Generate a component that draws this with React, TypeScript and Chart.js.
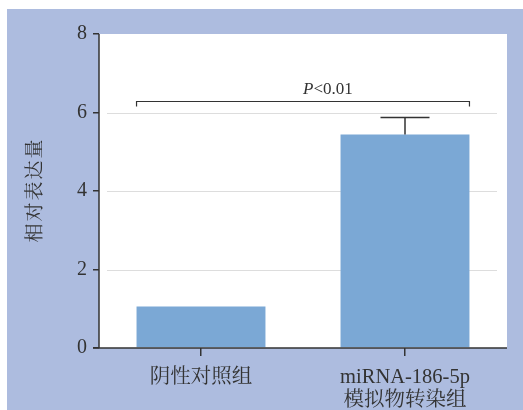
import React, { useEffect, useRef } from "react";
import { Chart, registerables } from "chart.js";

Chart.register(...registerables);

const categories: (string | string[])[] = ["阴性对照组", ["miRNA-186-5p", "模拟物转染组"]];
const values = [1.06, 5.44];
const errors = [0, 0.43];
const yTicks = [0, 2, 4, 6, 8];
const gridValues = [2, 4, 6];
const bracketValue = 6.28;
const pLabel = ["P", "<0.01"];
const yTitle = "相对表达量";

const FONT = '"Liberation Serif", "Noto Serif CJK SC", "Noto Sans CJK SC", serif';
const FRAME = "#adbcdf";
const BAR = "#7ba8d5";
const INK = "#333333";

const framePlugin = {
  id: "frame",
  beforeDraw(chart: any) {
    const { ctx, chartArea, width, height } = chart;
    ctx.save();
    ctx.fillStyle = "#ffffff";
    ctx.fillRect(0, 0, width, height);
    ctx.fillStyle = FRAME;
    ctx.fillRect(7, 9, width - 7, height - 9);
    ctx.fillStyle = "#ffffff";
    ctx.fillRect(chartArea.left, chartArea.top, chartArea.right - chartArea.left, chartArea.bottom - chartArea.top);
    ctx.restore();
  },
  beforeDatasetsDraw(chart: any) {
    const { ctx, chartArea, scales } = chart;
    ctx.save();
    ctx.strokeStyle = "#dddddd";
    ctx.lineWidth = 1;
    for (const v of gridValues) {
      const y = Math.round(scales.y.getPixelForValue(v)) + 0.5;
      ctx.beginPath();
      ctx.moveTo(chartArea.left + 8, y);
      ctx.lineTo(chartArea.right - 10, y);
      ctx.stroke();
    }
    ctx.restore();
  },
  afterDatasetsDraw(chart: any) {
    const { ctx, chartArea, scales } = chart;
    const meta = chart.getDatasetMeta(0);
    ctx.save();
    ctx.strokeStyle = INK;
    ctx.lineWidth = 1.5;

    // axis lines
    ctx.beginPath();
    ctx.moveTo(chartArea.left, chartArea.top);
    ctx.lineTo(chartArea.left, chartArea.bottom);
    ctx.moveTo(chartArea.left - 6, chartArea.bottom);
    ctx.lineTo(chartArea.right, chartArea.bottom);
    ctx.stroke();

    // error bars
    meta.data.forEach((bar: any, i: number) => {
      if (!errors[i]) return;
      const yTop = scales.y.getPixelForValue(values[i] + errors[i]);
      const x = bar.x;
      ctx.beginPath();
      ctx.moveTo(x, bar.y);
      ctx.lineTo(x, yTop);
      ctx.moveTo(x - 24.5, yTop);
      ctx.lineTo(x + 24.5, yTop);
      ctx.stroke();
    });

    // significance bracket
    const b0 = meta.data[0];
    const b1 = meta.data[meta.data.length - 1];
    const x1 = b0.x - b0.width / 2;
    const x2 = b1.x + b1.width / 2;
    const yb = scales.y.getPixelForValue(bracketValue);
    ctx.lineWidth = 1.2;
    ctx.beginPath();
    ctx.moveTo(x1, yb + 5);
    ctx.lineTo(x1, yb);
    ctx.lineTo(x2, yb);
    ctx.lineTo(x2, yb + 5);
    ctx.stroke();

    const xt = (x1 + x2) / 2;
    ctx.fillStyle = INK;
    ctx.textBaseline = "alphabetic";
    ctx.textAlign = "left";
    ctx.font = `italic 17px ${FONT}`;
    ctx.fillText(pLabel[0], xt, yb - 8);
    const w = ctx.measureText(pLabel[0]).width;
    ctx.font = `17px ${FONT}`;
    ctx.fillText(pLabel[1], xt + w, yb - 8);

    // y axis title
    ctx.translate(36, 190);
    ctx.rotate(-Math.PI / 2);
    ctx.textAlign = "center";
    ctx.textBaseline = "middle";
    ctx.font = `19px ${FONT}`;
    (ctx as any).letterSpacing = "2px";
    ctx.fillText(yTitle, 0, 0);
    ctx.restore();
  },
};

export default function App() {
  const ref = useRef<HTMLCanvasElement | null>(null);

  useEffect(() => {
    if (!ref.current) return;
    const chart = new Chart(ref.current, {
      type: "bar",
      data: {
        labels: categories as any,
        datasets: [
          {
            data: values,
            backgroundColor: BAR,
            borderWidth: 0,
            barPercentage: 0.632,
            categoryPercentage: 1,
          },
        ],
      },
      options: {
        responsive: false,
        animation: false,
        devicePixelRatio: 1,
        layout: { padding: { top: 34, right: 16, left: 0, bottom: 0 } },
        plugins: { legend: { display: false }, tooltip: { enabled: false } },
        scales: {
          x: {
            offset: true,
            border: { display: false },
            grid: {
              offset: false,
              drawOnChartArea: false,
              drawTicks: true,
              tickLength: 8,
              tickColor: INK,
              lineWidth: 1.5,
            },
            ticks: {
              color: INK,
              padding: 10,
              maxRotation: 0,
              autoSkip: false,
              font: { family: FONT, size: 20.5, lineHeight: 1.12 },
            },
            afterFit: (s: any) => {
              s.height = 62;
            },
          },
          y: {
            min: 0,
            max: 8,
            border: { display: false },
            grid: {
              drawOnChartArea: false,
              drawTicks: true,
              tickLength: 6,
              tickColor: INK,
              lineWidth: 1.5,
            },
            afterBuildTicks: (s: any) => {
              s.ticks = yTicks.map((v) => ({ value: v }));
            },
            ticks: {
              color: INK,
              padding: 6,
              font: { family: FONT, size: 20 },
            },
            afterFit: (s: any) => {
              s.width = 99;
            },
          },
        },
      },
      plugins: [framePlugin],
    });
    return () => chart.destroy();
  }, []);

  return (
    <div style={{ position: "absolute", left: 0, top: 0, width: 523, height: 410 }}>
      <canvas ref={ref} width={523} height={410} style={{ display: "block" }} />
    </div>
  );
}
